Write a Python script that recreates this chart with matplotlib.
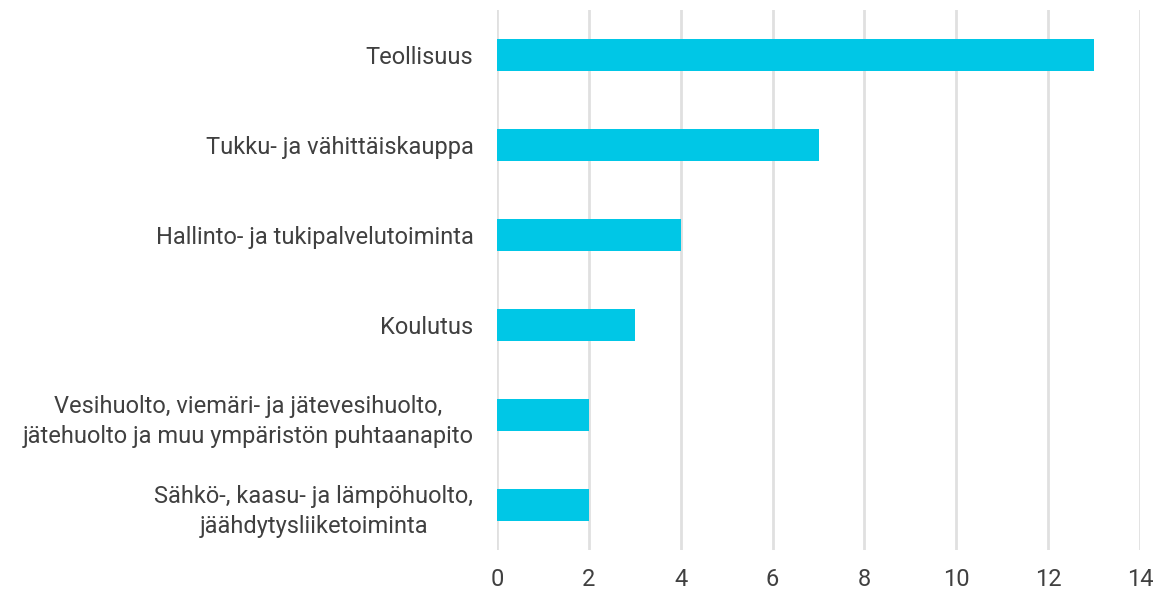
import matplotlib.pyplot as plt
import numpy as np

plt.rcParams['font.family'] = ['Roboto', 'DejaVu Sans']

# data (top to bottom)
categories = [
    'Teollisuus',
    'Tukku- ja vähittäiskauppa',
    'Hallinto- ja tukipalvelutoiminta',
    'Koulutus',
    'Vesihuolto, viemäri- ja jätevesihuolto,\njätehuolto ja muu ympäristön puhtaanapito',
    'Sähkö-, kaasu- ja lämpöhuolto,\njäähdytysliiketoiminta',
]
values = [13, 7, 4, 3, 2, 2]
xticks = [0, 2, 4, 6, 8, 10, 12, 14]

fig = plt.figure(figsize=(11.58, 5.9), dpi=100)
ax = fig.add_axes([0.4292, 0.0678, 0.9845 - 0.4292, 0.983 - 0.0678])

y = np.arange(len(categories))
ax.barh(y, values, height=0.356, color='#00C7E6', zorder=3)

ax.set_ylim(len(categories) - 0.5, -0.5)
ax.set_xlim(0, 14)
ax.set_xticks(xticks)
ax.set_yticks(y)
ax.set_yticklabels(categories, multialignment='center', linespacing=1.4)

ax.grid(axis='x', color='#E0E0E0', linewidth=2, zorder=0)
ax.grid(axis='y', visible=False)
for s in ax.spines.values():
    s.set_visible(False)

ax.tick_params(axis='both', length=0, labelsize=17, colors='#404040')
ax.tick_params(axis='y', pad=17)
ax.tick_params(axis='x', pad=13)

fig.savefig('out.png', dpi=100)
